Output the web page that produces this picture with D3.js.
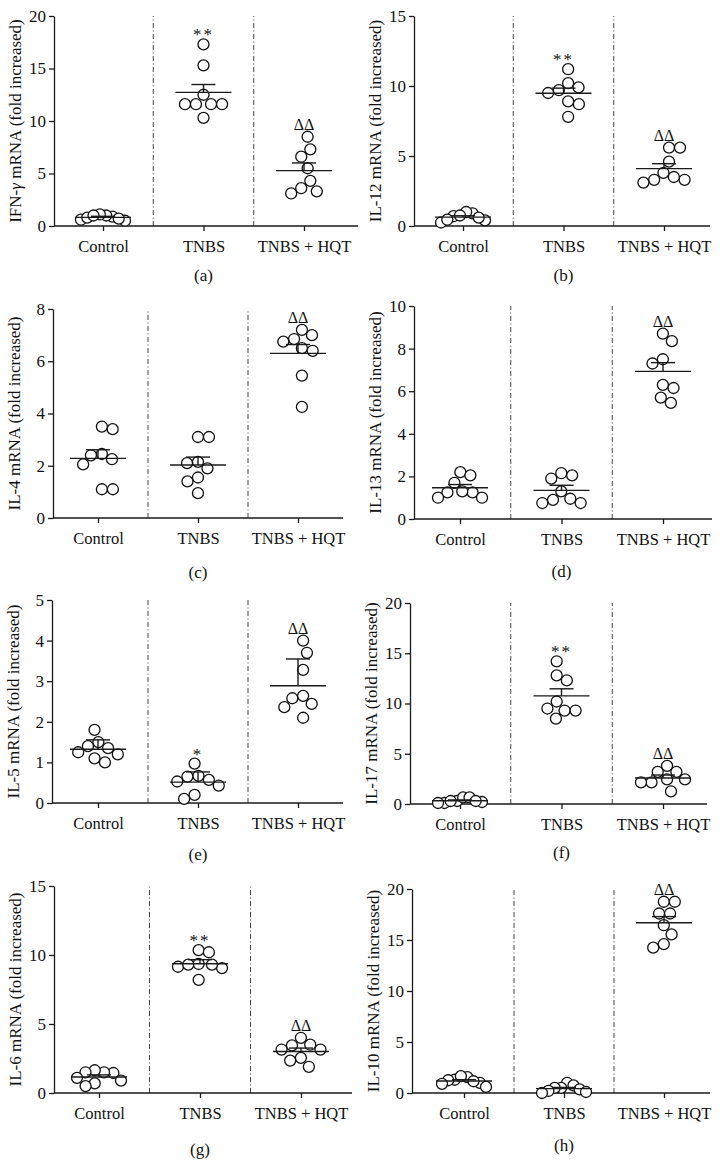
<!DOCTYPE html>
<meta charset="utf-8">
<style>
  body { margin: 0; background: #fff; }
  text { font-family: "Liberation Serif", "Times New Roman", serif; fill: #111; }
</style>
<svg width="721" height="1163"></svg>
<script src="https://cdn.jsdelivr.net/npm/d3@7/dist/d3.min.js"></script>
<script>
  var groups = ["Control", "TNBS", "TNBS + HQT"];

  // (a) IFN-gamma
  var ifngControl = [0.9, 1.0, 0.6, 0.5, 0.7, 1.1, 0.8, 1.0];
  var ifngTNBS = [17.3, 15.3, 12.5, 11.6, 11.6, 11.6, 11.6, 10.3];
  var ifngHQT = [8.5, 7.3, 6.6, 5.5, 4.3, 3.6, 3.3, 3.1];
  var ifngSem = [0.1, 0.75, 0.73];
  var ifngTicks = [0, 5, 10, 15, 20];
  var ifngMarks = ["", "**", "ΔΔ"];

  // (b) IL-12
  var il12Control = [0.7, 0.9, 0.4, 0.25, 0.45, 1.0, 0.75, 0.6];
  var il12TNBS = [11.2, 10.2, 9.7, 9.9, 9.5, 8.9, 8.7, 7.8];
  var il12HQT = [5.6, 5.6, 4.6, 3.8, 3.3, 3.1, 3.3, 3.5];
  var il12Sem = [0.1, 0.36, 0.35];
  var il12Ticks = [0, 5, 10, 15];
  var il12Marks = ["", "**", "ΔΔ"];

  // (c) IL-4
  var il4Control = [3.4, 3.5, 2.45, 2.25, 2.4, 2.05, 1.1, 1.1];
  var il4TNBS = [3.1, 3.1, 2.1, 2.15, 1.9, 1.55, 1.4, 0.95];
  var il4HQT = [7.2, 7.0, 6.85, 6.75, 6.5, 6.4, 5.45, 4.25];
  var il4Sem = [0.33, 0.3, 0.34];
  var il4Ticks = [0, 2, 4, 6, 8];
  var il4Marks = ["", "", "ΔΔ"];

  // (d) IL-13
  var il13Control = [2.2, 2.05, 1.7, 1.25, 1.3, 1.25, 1.0, 1.0];
  var il13TNBS = [2.05, 2.15, 1.9, 1.3, 0.9, 0.75, 0.75, 0.95];
  var il13HQT = [8.7, 8.35, 7.5, 7.3, 6.15, 6.3, 5.7, 5.45];
  var il13Sem = [0.15, 0.24, 0.41];
  var il13Ticks = [0, 2, 4, 6, 8, 10];
  var il13Marks = ["", "", "ΔΔ"];

  // (e) IL-5
  var il5Control = [1.8, 1.5, 1.35, 1.4, 1.25, 1.2, 1.1, 1.0];
  var il5TNBS = [0.97, 0.67, 0.65, 0.57, 0.53, 0.43, 0.2, 0.1];
  var il5HQT = [4.0, 3.7, 3.28, 2.64, 2.58, 2.44, 2.36, 2.1];
  var il5Sem = [0.23, 0.25, 0.66];
  var il5Ticks = [0, 1, 2, 3, 4, 5];
  var il5Marks = ["", "*", "ΔΔ"];

  // (f) IL-17
  var il17Control = [0.3, 0.65, 0.1, 0.1, 0.2, 0.65, 0.3, 0.3];
  var il17TNBS = [14.2, 12.8, 12.3, 10.2, 9.3, 9.3, 9.5, 8.5];
  var il17HQT = [3.8, 3.2, 3.2, 2.45, 2.45, 2.15, 2.15, 1.25];
  var il17Sem = [0.08, 0.7, 0.3];
  var il17Ticks = [0, 5, 10, 15, 20];
  var il17Marks = ["", "**", "ΔΔ"];

  // (g) IL-6
  var il6Control = [1.45, 1.5, 1.65, 1.5, 0.9, 1.1, 0.7, 0.5];
  var il6TNBS = [10.35, 10.2, 9.15, 9.35, 9.05, 9.3, 9.3, 8.2];
  var il6HQT = [4.0, 3.5, 3.45, 3.15, 3.15, 2.55, 2.35, 1.9];
  var il6Sem = [0.15, 0.3, 0.25];
  var il6Ticks = [0, 5, 10, 15];
  var il6Marks = ["", "**", "ΔΔ"];

  // (h) IL-10
  var il10Control = [1.3, 1.55, 1.65, 1.25, 0.9, 1.0, 1.15, 0.6];
  var il10TNBS = [1.0, 0.75, 0.5, 0.5, 0.35, 0.2, 0.0, 0.1];
  var il10HQT = [18.75, 18.75, 17.6, 17.6, 16.45, 15.55, 14.6, 14.25];
  var il10Sem = [0.13, 0.12, 0.6];
  var il10Ticks = [0, 5, 10, 15, 20];
  var il10Marks = ["", "", "ΔΔ"];

  var panels = [
    {name: "IFN-", greek: "γ", rest: " mRNA (fold increased)", label: "(a)", values: [ifngControl, ifngTNBS, ifngHQT], sem: ifngSem, ticks: ifngTicks, marks: ifngMarks},
    {name: "IL-12", rest: " mRNA (fold increased)", label: "(b)", values: [il12Control, il12TNBS, il12HQT], sem: il12Sem, ticks: il12Ticks, marks: il12Marks},
    {name: "IL-4", rest: " mRNA (fold increased)", label: "(c)", values: [il4Control, il4TNBS, il4HQT], sem: il4Sem, ticks: il4Ticks, marks: il4Marks},
    {name: "IL-13", rest: " mRNA (fold increased)", label: "(d)", values: [il13Control, il13TNBS, il13HQT], sem: il13Sem, ticks: il13Ticks, marks: il13Marks},
    {name: "IL-5", rest: " mRNA (fold increased)", label: "(e)", values: [il5Control, il5TNBS, il5HQT], sem: il5Sem, ticks: il5Ticks, marks: il5Marks},
    {name: "IL-17", rest: " mRNA (fold increased)", label: "(f)", values: [il17Control, il17TNBS, il17HQT], sem: il17Sem, ticks: il17Ticks, marks: il17Marks},
    {name: "IL-6", rest: " mRNA (fold increased)", label: "(g)", values: [il6Control, il6TNBS, il6HQT], sem: il6Sem, ticks: il6Ticks, marks: il6Marks},
    {name: "IL-10", rest: " mRNA (fold increased)", label: "(h)", values: [il10Control, il10TNBS, il10HQT], sem: il10Sem, ticks: il10Ticks, marks: il10Marks}
  ];

  // frame of each panel: y axis x, first/last category x, x axis end, top, zero, panel label y
  var layout = [
    {ax: 54, c0: 103, c1: 304, end: 358, top: 16, zero: 226, lab: 281},
    {ax: 414, c0: 463, c1: 664, end: 710, top: 16, zero: 226, lab: 281},
    {ax: 53, c0: 98, c1: 298, end: 343, top: 309, zero: 518, lab: 578},
    {ax: 414, c0: 460, c1: 663, end: 712, top: 306, zero: 519, lab: 577},
    {ax: 52, c0: 98, c1: 298, end: 343, top: 600, zero: 803, lab: 860},
    {ax: 410, c0: 460, c1: 663, end: 707, top: 603, zero: 804, lab: 858},
    {ax: 54, c0: 99, c1: 301, end: 352, top: 886, zero: 1093, lab: 1155},
    {ax: 412, c0: 464, c1: 664, end: 710, top: 889, zero: 1093, lab: 1151}
  ];

  var ink = "#1a1a1a",
      serif = '"Liberation Serif", "Times New Roman", serif',
      r = 5.5,
      dX = 11, dY = 13, maxHalf = 22;

  var svg = d3.select("svg");
  svg.append("rect").attr("width", 721).attr("height", 1163).attr("fill", "#fff");

  // beeswarm: each point takes the free x offset nearest the centre,
  // then a crowded column is squeezed to fit the group width
  function swarm(vals, y) {
    var xs = new Array(vals.length), placed = [], side = 1;
    var order = d3.range(vals.length).sort(function(a, b) { return vals[b] - vals[a]; });
    order.forEach(function(i) {
      var py = y(vals[i]), iv = [];
      placed.forEach(function(p) {
        var dy = Math.abs(p.y - py);
        if (dy < dY) {
          var dx = dX * Math.sqrt(1 - (dy / dY) * (dy / dY));
          iv.push([p.x - dx, p.x + dx]);
        }
      });
      var cands = [0];
      iv.forEach(function(d) { cands.push(d[0], d[1]); });
      cands.sort(function(a, b) {
        var d = Math.abs(a) - Math.abs(b);
        if (Math.abs(d) > 0.01) return d;
        return side * (b - a);
      });
      var x = cands.find(function(c) {
        return iv.every(function(d) { return c <= d[0] + 1e-6 || c >= d[1] - 1e-6; });
      });
      if (x !== 0) side = x > 0 ? -1 : 1;
      xs[i] = x;
      placed.push({x: x, y: py});
    });
    var lo = d3.min(xs), hi = d3.max(xs), mid = (lo + hi) / 2, half = (hi - lo) / 2;
    var k = half > maxHalf ? maxHalf / half : 1;
    return xs.map(function(v) { return (v - mid) * k; });
  }

  panels.forEach(function(P, k) {
    var L = layout[k];
    var y = d3.scaleLinear().domain([0, P.ticks[P.ticks.length - 1]]).range([L.zero, L.top]);
    var x = d3.scalePoint().domain(groups).range([L.c0, L.c1]);
    var g = svg.append("g");

    // dash-dot separators between groups
    for (var i = 0; i < groups.length - 1; i++) {
      var mx = (x(groups[i]) + x(groups[i + 1])) / 2;
      g.append("line")
        .attr("x1", mx).attr("x2", mx)
        .attr("y1", L.zero).attr("y2", L.top)
        .attr("stroke", "#444").attr("stroke-width", 1)
        .attr("stroke-dasharray", "5,2.5,1,2.5");
    }

    // y axis
    var ya = g.append("g")
      .attr("transform", "translate(" + L.ax + ",0)")
      .call(d3.axisLeft(y).tickValues(P.ticks).tickFormat(d3.format("d"))
        .tickSize(5).tickSizeOuter(0).tickPadding(3));
    ya.attr("font-family", serif);
    ya.select(".domain").attr("stroke", ink).attr("stroke-width", 1.3);
    ya.selectAll(".tick line").attr("stroke", ink).attr("stroke-width", 1.3);
    ya.selectAll(".tick text").style("font-size", "17px").attr("fill", "#111");

    // x axis
    var xa = g.append("g")
      .attr("transform", "translate(0," + L.zero + ")")
      .call(d3.axisBottom(x).tickSize(5).tickSizeOuter(0).tickPadding(9));
    xa.attr("font-family", serif);
    xa.select(".domain").remove();
    xa.append("line").attr("x1", L.ax).attr("x2", L.end)
      .attr("stroke", ink).attr("stroke-width", 1.3);
    xa.selectAll(".tick line").attr("stroke", ink).attr("stroke-width", 1.3);
    xa.selectAll(".tick text").style("font-size", "16.5px").attr("fill", "#111");

    // axis title
    var t = g.append("text")
      .attr("transform", "translate(" + (L.ax - 39) + "," + (L.top + L.zero) / 2 + ") rotate(-90)")
      .attr("text-anchor", "middle")
      .attr("dy", "0.35em")
      .style("font-size", "17px");
    t.append("tspan").text(P.name);
    if (P.greek) t.append("tspan").style("font-style", "italic").text(P.greek);
    t.append("tspan").text(P.rest);

    // panel letter
    g.append("text")
      .attr("x", x(groups[1])).attr("y", L.lab)
      .attr("text-anchor", "middle")
      .style("font-size", "17px")
      .text(P.label);

    groups.forEach(function(name, j) {
      var vals = P.values[j], cx = x(name);
      var offs = swarm(vals, y);
      var m = d3.mean(vals), top = m + P.sem[j];

      g.append("g").selectAll("circle")
        .data(vals)
        .join("circle")
        .attr("cx", function(d, i) { return cx + offs[i]; })
        .attr("cy", function(d) { return y(d); })
        .attr("r", r)
        .attr("fill", "#fff")
        .attr("stroke", "#111")
        .attr("stroke-width", 1.3);

      // mean with SEM
      g.append("line")
        .attr("x1", cx - 28).attr("x2", cx + 28)
        .attr("y1", y(m)).attr("y2", y(m))
        .attr("stroke", ink).attr("stroke-width", 1.4);
      g.append("line")
        .attr("x1", cx).attr("x2", cx)
        .attr("y1", y(m)).attr("y2", y(top))
        .attr("stroke", ink).attr("stroke-width", 1.4);
      g.append("line")
        .attr("x1", cx - 12).attr("x2", cx + 12)
        .attr("y1", y(top)).attr("y2", y(top))
        .attr("stroke", ink).attr("stroke-width", 1.4);

      if (P.marks[j]) {
        var star = P.marks[j].indexOf("*") >= 0;
        g.append("text")
          .attr("x", cx)
          .attr("y", y(d3.max(vals)) - (star ? 4 : 7))
          .attr("text-anchor", "middle")
          .style("font-size", star ? "17px" : "16px")
          .style("letter-spacing", star ? "2px" : "0px")
          .text(P.marks[j]);
      }
    });
  });
</script>
